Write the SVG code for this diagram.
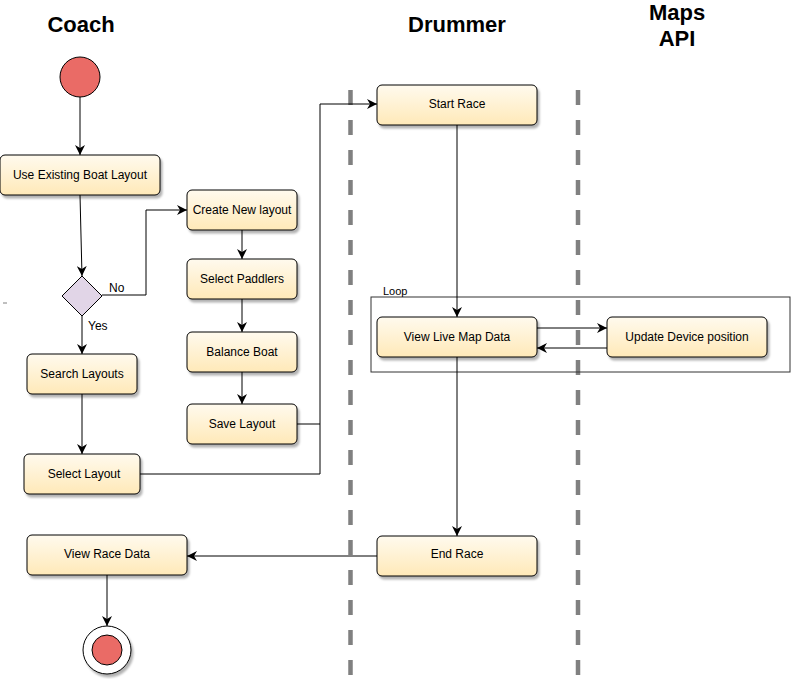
<svg xmlns="http://www.w3.org/2000/svg" width="791" height="679" viewBox="0 0 791 679">
<defs>
<linearGradient id="g" x1="0" y1="0" x2="0" y2="1">
<stop offset="0" stop-color="#FFFAEE"/>
<stop offset="1" stop-color="#FFE9B8"/>
</linearGradient>
<filter id="sh" x="-10%" y="-10%" width="130%" height="140%">
<feDropShadow dx="2" dy="3" stdDeviation="1.2" flood-color="#000" flood-opacity="0.3"/>
</filter>
<marker id="a" viewBox="0 0 10 10" refX="10" refY="5" markerWidth="10" markerHeight="10" markerUnits="userSpaceOnUse" orient="auto">
<path d="M0,0 L10,5 L0,10 L3,5 Z" fill="#000"/>
</marker>
</defs>
<style>
.n{fill:url(#g);stroke:#000;stroke-width:1;filter:url(#sh)}
.t{font-family:"Liberation Sans",Arial,sans-serif;font-size:12px;fill:#000;text-anchor:middle}
.l{font-family:"Liberation Sans",Arial,sans-serif;font-size:12px;fill:#000}
.h{font-family:"Liberation Sans",Arial,sans-serif;font-size:22px;font-weight:bold;fill:#000;text-anchor:middle}
.c{fill:none;stroke:#000;stroke-width:1}
.lane{stroke:#808080;stroke-width:4.5;stroke-dasharray:15 15}
</style>
<rect width="791" height="679" fill="#fff"/>
<g id="titles">
<text class="h" x="81" y="32">Coach</text>
<text class="h" x="457" y="32">Drummer</text>
<text class="h" x="677" y="20">Maps</text>
<text class="h" x="677" y="46">API</text>
</g>
<g id="lanes">
<line class="lane" x1="350.5" y1="90" x2="350.5" y2="679"/>
<line class="lane" x1="578" y1="90" x2="578" y2="679"/>
</g>
<line x1="3" y1="303" x2="7" y2="303" stroke="#808080" stroke-width="1"/>
<g id="loop">
<rect x="371" y="297" width="419" height="75" fill="none" stroke="#333" stroke-width="1"/>
<text class="l" x="383" y="295" style="font-size:11px">Loop</text>
</g>
<g id="connectors">
<line class="c" x1="80" y1="97" x2="80" y2="155" marker-end="url(#a)"/>
<line class="c" x1="80" y1="195" x2="82" y2="276" marker-end="url(#a)"/>
<polyline class="c" points="102,295 146,295 146,210 187,210" marker-end="url(#a)"/>
<text class="l" x="109" y="292">No</text>
<line class="c" x1="82" y1="316" x2="82" y2="354" marker-end="url(#a)"/>
<text class="l" x="88" y="330">Yes</text>
<line class="c" x1="242" y1="230" x2="242" y2="259" marker-end="url(#a)"/>
<line class="c" x1="242" y1="299" x2="242" y2="332" marker-end="url(#a)"/>
<line class="c" x1="242" y1="372" x2="242" y2="404" marker-end="url(#a)"/>
<line class="c" x1="82" y1="394" x2="82" y2="454" marker-end="url(#a)"/>
<polyline class="c" points="140,474 320,474 320,104 377,104" marker-end="url(#a)"/>
<line class="c" x1="297" y1="424" x2="320" y2="424"/>
<line class="c" x1="457" y1="125" x2="457" y2="317" marker-end="url(#a)"/>
<line class="c" x1="537" y1="328" x2="607" y2="328" marker-end="url(#a)"/>
<line class="c" x1="607" y1="348" x2="537" y2="348" marker-end="url(#a)"/>
<line class="c" x1="457" y1="357" x2="457" y2="536" marker-end="url(#a)"/>
<line class="c" x1="377" y1="556" x2="187" y2="556" marker-end="url(#a)"/>
<line class="c" x1="107" y1="575" x2="107" y2="626" marker-end="url(#a)"/>
</g>
<g id="start"><circle cx="80" cy="77" r="20" fill="#EA6B66" stroke="#000" stroke-width="1"/></g>
<g id="useExisting"><rect class="n" x="0" y="155" width="160" height="40" rx="5"/><text class="t" x="80" y="179">Use Existing Boat Layout</text></g>
<g id="decision"><polygon points="82,276 102,296 82,316 62,296" fill="#E1D5E7" stroke="#000" stroke-width="1"/></g>
<g id="createNew"><rect class="n" x="187" y="190" width="110" height="40" rx="5"/><text class="t" x="242" y="214">Create New layout</text></g>
<g id="selectPaddlers"><rect class="n" x="187" y="259" width="110" height="40" rx="5"/><text class="t" x="242" y="283">Select Paddlers</text></g>
<g id="balanceBoat"><rect class="n" x="187" y="332" width="110" height="40" rx="5"/><text class="t" x="242" y="356">Balance Boat</text></g>
<g id="saveLayout"><rect class="n" x="187" y="404" width="110" height="40" rx="5"/><text class="t" x="242" y="428">Save Layout</text></g>
<g id="searchLayouts"><rect class="n" x="27" y="354" width="110" height="40" rx="5"/><text class="t" x="82" y="378">Search Layouts</text></g>
<g id="selectLayout"><rect class="n" x="24" y="454" width="116" height="40" rx="5"/><text class="t" x="84" y="478">Select Layout</text></g>
<g id="startRace"><rect class="n" x="377" y="85" width="160" height="40" rx="5"/><text class="t" x="457" y="108">Start Race</text></g>
<g id="viewLive"><rect class="n" x="377" y="317" width="160" height="40" rx="5"/><text class="t" x="457" y="341">View Live Map Data</text></g>
<g id="updateDevice"><rect class="n" x="607" y="317" width="160" height="40" rx="5"/><text class="t" x="687" y="341">Update Device position</text></g>
<g id="endRace"><rect class="n" x="377" y="536" width="160" height="40" rx="5"/><text class="t" x="457" y="558">End Race</text></g>
<g id="viewRaceData"><rect class="n" x="27" y="535" width="160" height="40" rx="5"/><text class="t" x="107" y="558">View Race Data</text></g>
<g id="end"><circle cx="107" cy="650" r="24" fill="#fff" stroke="#000" stroke-width="1" filter="url(#sh)"/><circle cx="107" cy="650" r="15" fill="#EA6B66" stroke="#000" stroke-width="1"/></g>
</svg>
